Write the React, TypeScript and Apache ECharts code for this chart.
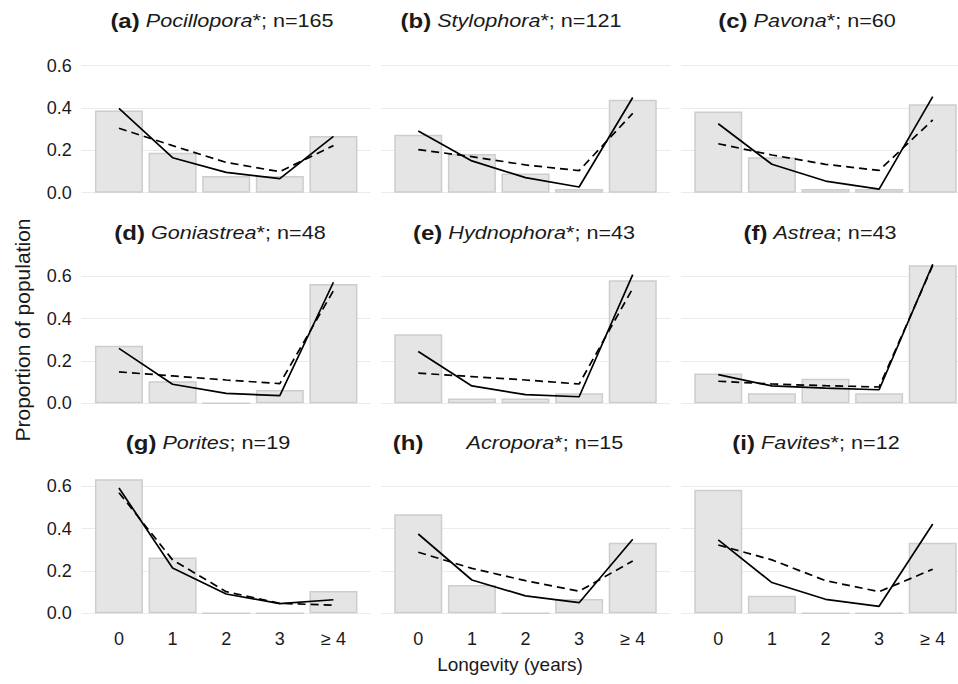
import React, { useEffect, useRef } from "react";
import * as echarts from "echarts";

// ---------- data ----------
const categories = ["0", "1", "2", "3", "≥ 4"];
const panelLetters = ["a", "b", "c", "d", "e", "f", "g", "h", "i"];
const genera = ["Pocillopora", "Stylophora", "Pavona", "Goniastrea", "Hydnophora", "Astrea", "Porites", "Acropora", "Favites"];
const asterisk = [true, true, true, true, true, false, false, true, true];
const sampleSizes = [165, 121, 60, 48, 43, 43, 19, 15, 12];

// observed proportions (bars)
const observedA = [0.388, 0.188, 0.079, 0.079, 0.267];
const observedB = [0.273, 0.182, 0.091, 0.017, 0.438];
const observedC = [0.383, 0.167, 0.017, 0.017, 0.417];
const observedD = [0.271, 0.104, 0.0, 0.063, 0.563];
const observedE = [0.326, 0.023, 0.023, 0.047, 0.581];
const observedF = [0.140, 0.047, 0.116, 0.047, 0.651];
const observedG = [0.632, 0.263, 0.0, 0.0, 0.105];
const observedH = [0.467, 0.133, 0.0, 0.067, 0.333];
const observedI = [0.583, 0.083, 0.0, 0.0, 0.333];
const observed = [observedA, observedB, observedC, observedD, observedE, observedF, observedG, observedH, observedI];

// fitted model 1 (solid line)
const solidA = [0.398, 0.165, 0.096, 0.066, 0.266];
const solidB = [0.291, 0.150, 0.071, 0.027, 0.449];
const solidC = [0.325, 0.134, 0.055, 0.017, 0.453];
const solidD = [0.259, 0.090, 0.047, 0.036, 0.571];
const solidE = [0.244, 0.082, 0.041, 0.031, 0.607];
const solidF = [0.135, 0.082, 0.072, 0.064, 0.656];
const solidG = [0.591, 0.214, 0.091, 0.046, 0.064];
const solidH = [0.374, 0.157, 0.082, 0.050, 0.349];
const solidI = [0.346, 0.145, 0.066, 0.033, 0.421];
const solid = [solidA, solidB, solidC, solidD, solidE, solidF, solidG, solidH, solidI];

// fitted model 2 (dashed line)
const dashedA = [0.304, 0.222, 0.143, 0.099, 0.222];
const dashedB = [0.203, 0.170, 0.131, 0.104, 0.374];
const dashedC = [0.231, 0.178, 0.134, 0.105, 0.343];
const dashedD = [0.148, 0.129, 0.110, 0.093, 0.531];
const dashedE = [0.142, 0.126, 0.110, 0.091, 0.542];
const dashedF = [0.104, 0.091, 0.083, 0.077, 0.650];
const dashedG = [0.569, 0.252, 0.102, 0.047, 0.038];
const dashedH = [0.288, 0.212, 0.154, 0.104, 0.247];
const dashedI = [0.322, 0.252, 0.154, 0.102, 0.208];
const dashed = [dashedA, dashedB, dashedC, dashedD, dashedE, dashedF, dashedG, dashedH, dashedI];

const yTicks = [0, 0.2, 0.4, 0.6];
const yTitle = "Proportion of population";
const xTitle = "Longevity (years)";

// ---------- layout ----------
const FONT = "'Liberation Sans', Arial, Helvetica, sans-serif";
const TEXT = "#1a1a1a";
const colLeft = [81.7, 381, 681];
const rowZero = [192.7, 403.3, 613.3];
const panelW = 289;
const yMax = 0.693;
const unitPx = 212;
const panelH = yMax * unitPx;
const titleCenters = [222, 511, 807, 220, 524, 820, 208, 508, 816];
const titleMid = [21, 233, 443];

export default function App() {
  const ref = useRef<HTMLDivElement>(null);
  useEffect(() => {
    if (!ref.current) return;
    const chart = echarts.init(ref.current, undefined, { renderer: "svg" });
    const idx = genera.map((_, k) => k);

    const grid = idx.map((k) => ({
      left: colLeft[k % 3],
      top: rowZero[Math.floor(k / 3)] - panelH,
      width: panelW,
      height: panelH,
      containLabel: false,
      outerBoundsMode: "none",
    }));

    const xAxis = idx.map((k) => ({
      gridIndex: k,
      type: "value",
      min: -0.695,
      max: 4.695,
      splitLine: { show: false },
      axisLine: { show: false },
      axisTick: { show: false },
      axisLabel: {
        show: Math.floor(k / 3) === 2,
        customValues: [0, 1, 2, 3, 4],
        formatter: (v: number) => {
          const r = Math.round(v);
          return Math.abs(v - r) < 1e-6 && categories[r] !== undefined ? categories[r] : "";
        },
        margin: 17,
        fontSize: 18,
        color: TEXT,
        fontFamily: FONT,
      },
    }));

    const yAxis = idx.map((k) => ({
      gridIndex: k,
      type: "value",
      min: 0,
      max: yMax,
      interval: 0.2,
      splitLine: { show: true, showMaxLine: false, lineStyle: { color: "#EBEBEB", width: 1.2 } },
      axisLine: { show: false },
      axisTick: { show: false },
      axisLabel: {
        show: k % 3 === 0,
        showMaxLabel: false,
        formatter: (v: number) => (yTicks.some((t) => Math.abs(t - v) < 1e-6) ? v.toFixed(1) : ""),
        margin: 10,
        fontSize: 18,
        color: TEXT,
        fontFamily: FONT,
      },
    }));

    const series: any[] = [];
    idx.forEach((k) => {
      series.push({
        type: "bar",
        xAxisIndex: k,
        yAxisIndex: k,
        data: observed[k].map((v, i) => [i, v]),
        barWidth: 48,
        itemStyle: { color: "#E4E5E4", borderColor: "#CDCDCD", borderWidth: 1.5 },
        silent: true,
        z: 1,
      });
      series.push({
        type: "line",
        xAxisIndex: k,
        yAxisIndex: k,
        data: solid[k].map((v, i) => [i, v]),
        symbol: "none",
        lineStyle: { color: "#000", width: 1.7 },
        silent: true,
        z: 3,
      });
      series.push({
        type: "line",
        xAxisIndex: k,
        yAxisIndex: k,
        data: dashed[k].map((v, i) => [i, v]),
        symbol: "none",
        lineStyle: { color: "#000", width: 1.7, type: [8, 5] },
        silent: true,
        z: 3,
      });
    });

    const richStyles = {
      b: { fontWeight: "bold", fontSize: 20, fill: TEXT, fontFamily: FONT },
      i: { fontStyle: "italic", fontWeight: "normal", fontSize: 18, fill: TEXT, fontFamily: FONT },
      n: { fontWeight: "normal", fontSize: 18, fill: TEXT, fontFamily: FONT },
      gap: { width: 36, fontSize: 18 },
    };

    const titleTexts = idx.map((k) => {
      const gap = panelLetters[k] === "h" ? "{gap| }" : "{n| }";
      return {
        type: "text",
        x: titleCenters[k],
        y: titleMid[Math.floor(k / 3)],
        scaleX: 1.2,
        silent: true,
        style: {
          text: `{b|(${panelLetters[k]})}${gap}{i|${genera[k]}}{n|${asterisk[k] ? "*" : ""}; n=${sampleSizes[k]}}`,
          rich: richStyles,
          fontFamily: FONT,
          fontSize: 18,
          fill: TEXT,
          align: "center",
          verticalAlign: "middle",
        },
      };
    });

    chart.setOption({
      animation: false,
      backgroundColor: "#ffffff",
      grid,
      xAxis,
      yAxis,
      series,
      graphic: [
        ...titleTexts,
        {
          type: "text",
          x: 22,
          y: 330,
          rotation: Math.PI / 2,
          silent: true,
          style: {
            text: yTitle,
            fontSize: 21,
            fontFamily: FONT,
            fill: TEXT,
            align: "center",
            verticalAlign: "middle",
          },
        },
        {
          type: "text",
          x: 510,
          y: 664,
          silent: true,
          style: {
            text: xTitle,
            fontSize: 19,
            fontFamily: FONT,
            fill: TEXT,
            align: "center",
            verticalAlign: "middle",
          },
        },
      ],
    });
    return () => chart.dispose();
  }, []);
  return <div ref={ref} style={{ position: "absolute", left: 0, top: 0, width: 958, height: 684 }} />;
}
